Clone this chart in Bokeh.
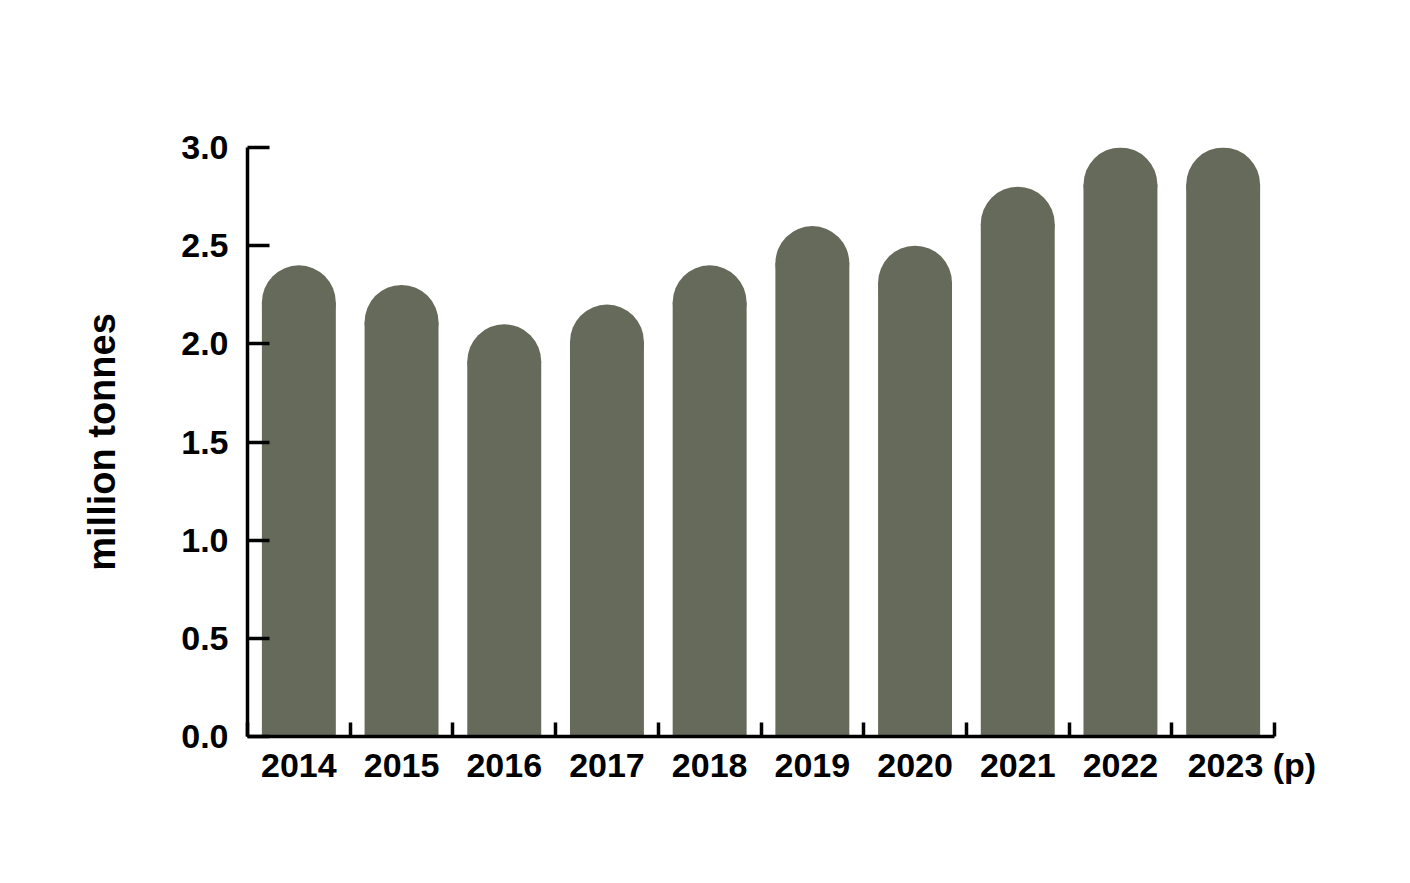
import numpy as np
from bokeh.plotting import figure
from bokeh.models import Range1d, FixedTicker, LinearAxis
from bokeh.embed import file_html
from bokeh.resources import INLINE

years = ["2014", "2015", "2016", "2017", "2018", "2019", "2020", "2021", "2022", "2023 (p)"]
values = [2.4, 2.3, 2.1, 2.2, 2.4, 2.6, 2.5, 2.8, 3.0, 3.0]
y_ticks = [0.0, 0.5, 1.0, 1.5, 2.0, 2.5, 3.0]

BAR_COLOR = "#666a5a"
FONT = "Liberation Sans"
BAR_W = 0.72
CAP = 0.19  # half height of rounded cap, data units
LAST_LABEL_SHIFT = 0.28  # the "(p)" suffix hangs to the right of the year

n = len(years)
xs = np.arange(n) + 0.5
vals = np.array(values)

p = figure(width=1394, height=867, output_backend="svg", toolbar_location=None,
           x_range=Range1d(0, n), y_range=Range1d(0, 3.0),
           x_axis_type=None, y_axis_type=None,
           min_border_left=247, min_border_right=120,
           min_border_top=147, min_border_bottom=131)
p.outline_line_color = None
p.grid.visible = False
p.background_fill_color = "white"
p.border_fill_color = "white"

p.vbar(x=xs, top=vals - CAP, bottom=0, width=BAR_W, color=BAR_COLOR, line_color=None)
p.ellipse(x=xs, y=vals - CAP, width=BAR_W, height=2 * CAP, color=BAR_COLOR, line_color=None)

# Y axis
ya = LinearAxis(ticker=FixedTicker(ticks=y_ticks, minor_ticks=[]))
ya.axis_line_width = 3.5
ya.axis_line_color = "black"
ya.major_tick_line_width = 3.5
ya.major_tick_in = 22
ya.major_tick_out = 0
ya.minor_tick_line_color = None
ya.major_label_standoff = 19
ya.major_label_overrides = {t: f"{t:.1f}" for t in y_ticks}
ya.major_label_text_font = FONT
ya.major_label_text_font_style = "bold"
ya.major_label_text_font_size = "34px"
ya.major_label_text_color = "black"
ya.axis_label = "million tonnes"
ya.axis_label_text_font = FONT
ya.axis_label_text_font_style = "bold"
ya.axis_label_text_font_size = "38px"
ya.axis_label_text_color = "black"
ya.axis_label_standoff = 55
p.add_layout(ya, "left")

# X axis: labels at centers, ticks at category boundaries
label_pos = [float(x) for x in xs]
label_pos[-1] += LAST_LABEL_SHIFT
xa = LinearAxis(ticker=FixedTicker(ticks=label_pos, minor_ticks=list(range(n + 1))))
xa.axis_line_width = 3.5
xa.axis_line_color = "black"
xa.major_tick_line_color = None
xa.major_tick_in = 0
xa.major_tick_out = 0
xa.minor_tick_line_width = 3.5
xa.minor_tick_line_color = "black"
xa.minor_tick_in = 14
xa.minor_tick_out = 0
xa.major_label_overrides = {x: lab for x, lab in zip(label_pos, years)}
xa.major_label_standoff = 9
xa.major_label_text_font = FONT
xa.major_label_text_font_style = "bold"
xa.major_label_text_font_size = "34px"
xa.major_label_text_color = "black"
p.add_layout(xa, "below")

open("out.html", "w").write(file_html(p, INLINE))
